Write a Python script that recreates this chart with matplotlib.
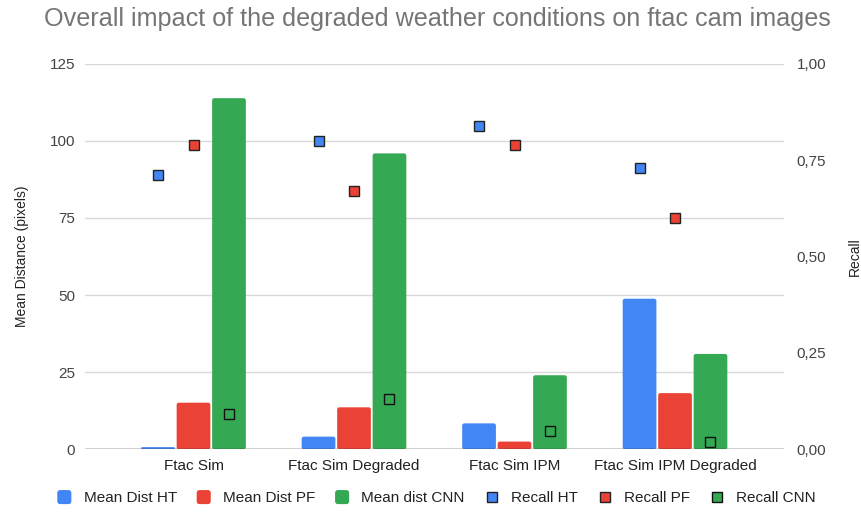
import matplotlib
matplotlib.use("Agg")
import matplotlib.pyplot as plt
import numpy as np
from matplotlib.lines import Line2D
from matplotlib.patches import FancyBboxPatch
from matplotlib.legend_handler import HandlerBase

plt.rcParams['font.family'] = ['Liberation Sans', 'DejaVu Sans']

categories = ["Ftac Sim", "Ftac Sim Degraded", "Ftac Sim IPM", "Ftac Sim IPM Degraded"]
mean_dist_ht = [0.7, 4.1, 8.4, 48.8]
mean_dist_pf = [15.1, 13.6, 2.5, 18.2]
mean_dist_cnn = [113.8, 95.9, 24.0, 30.9]
recall_ht = [0.711, 0.799, 0.838, 0.730]
recall_pf = [0.790, 0.669, 0.789, 0.600]
recall_cnn = [0.091, 0.130, 0.048, 0.019]

left_ticks = [0, 25, 50, 75, 100, 125]
right_ticks = [0, 0.25, 0.5, 0.75, 1.0]
right_tick_labels = ["0,00", "0,25", "0,50", "0,75", "1,00"]

BLUE, RED, GREEN = "#4285F4", "#EA4335", "#34A853"
TEXT = "#444444"

fig = plt.figure(figsize=(8.61, 5.16), dpi=100)
ax = fig.add_axes([85 / 861, 0.1293, (784 - 85) / 861, 0.8767 - 0.1293])
ax2 = ax.twinx()

x = np.arange(len(categories))
off = 0.221
w = 0.21
ax.set_xlim(-0.676, 3.679)
ax.set_ylim(0, 125)
ax2.set_ylim(0, 1.0)


def rounded_bars(axis, xs, heights, color):
    bars = axis.bar(xs, heights, w, color=color, zorder=2)
    # swap the plain rectangles for ones with softly rounded corners
    bb = axis.get_window_extent()
    xl, yl = axis.get_xlim(), axis.get_ylim()
    aspect = ((yl[1] - yl[0]) / bb.height) / ((xl[1] - xl[0]) / bb.width)
    for b in bars:
        b.set_visible(False)
        r = min(0.014, b.get_height() / aspect / 2)
        p = FancyBboxPatch((b.get_x(), b.get_y()), b.get_width(), b.get_height(),
                           boxstyle=f"round,pad=0,rounding_size={r}",
                           mutation_aspect=aspect, fc=color, ec='none', zorder=2)
        axis.add_patch(p)


rounded_bars(ax, x - off, mean_dist_ht, BLUE)
rounded_bars(ax, x, mean_dist_pf, RED)
rounded_bars(ax, x + off, mean_dist_cnn, GREEN)

ms = 7.5
ax2.plot(x - off, recall_ht, 's', color=BLUE, mec="#222222", mew=1.0, ms=ms, zorder=3)
ax2.plot(x, recall_pf, 's', color=RED, mec="#222222", mew=1.0, ms=ms, zorder=3)
ax2.plot(x + off, recall_cnn, 's', color=GREEN, mec="#111111", mew=1.0, ms=ms, zorder=3)

ax.set_yticks(left_ticks)
ax2.set_yticks(right_ticks)
ax2.set_yticklabels(right_tick_labels)
ax.set_xticks(x)
ax.set_xticklabels(categories)

ax.grid(axis='y', color="#d9d9d9", lw=1, zorder=0)
ax.axhline(0, color="#333333", lw=1.0, zorder=4)
for a in (ax, ax2):
    for s in a.spines.values():
        s.set_visible(False)
    a.tick_params(length=0, labelsize=11, colors=TEXT)
ax.tick_params(axis='y', pad=7)
ax2.tick_params(axis='y', pad=9)
ax.tick_params(axis='x', pad=7, labelcolor="#222222")

ax.set_ylabel("Mean Distance (pixels)", fontsize=10, color="#222222", labelpad=15)
ax2.set_ylabel("Recall", fontsize=10, color="#222222", labelpad=16)
ax.patch.set_visible(False)
ax2.set_zorder(ax.get_zorder() + 1)

fig.text(0.508, 1 - 26 / 516,
         "Overall impact of the degraded weather conditions on ftac cam images",
         ha='center', va='baseline', fontsize=18.1, color="#757575")


class RoundSwatch(HandlerBase):
    def __init__(self, color):
        super().__init__()
        self.color = color

    def create_artists(self, legend, orig_handle, xdescent, ydescent, width, height,
                       fontsize, trans):
        s = min(width, height * 1.35)
        x0 = -xdescent + (width - s) / 2
        y0 = -ydescent + (height - s) / 2
        p = FancyBboxPatch((x0, y0), s, s, boxstyle=f"round,pad=0,rounding_size={s * 0.2}",
                           fc=self.color, ec='none', transform=trans)
        return [p]


bar_keys = [Line2D([], [], label=t) for t in ("Mean Dist HT", "Mean Dist PF", "Mean dist CNN")]
handles = bar_keys + [
    Line2D([], [], marker='s', ls='none', color=BLUE, mec="#222222", ms=7, label="Recall HT"),
    Line2D([], [], marker='s', ls='none', color=RED, mec="#222222", ms=7, label="Recall PF"),
    Line2D([], [], marker='s', ls='none', color=GREEN, mec="#111111", ms=7, label="Recall CNN"),
]
hmap = {bar_keys[0]: RoundSwatch(BLUE), bar_keys[1]: RoundSwatch(RED),
        bar_keys[2]: RoundSwatch(GREEN)}
leg = fig.legend(handles=handles, handler_map=hmap, loc='center',
                 bbox_to_anchor=(0.507, 1 - 498 / 516), ncol=6,
                 frameon=False, fontsize=11, handlelength=0.92, handleheight=0.92,
                 handletextpad=0.8, columnspacing=1.3)
for t in leg.get_texts():
    t.set_color("#222222")

fig.savefig("out.png", dpi=100)
